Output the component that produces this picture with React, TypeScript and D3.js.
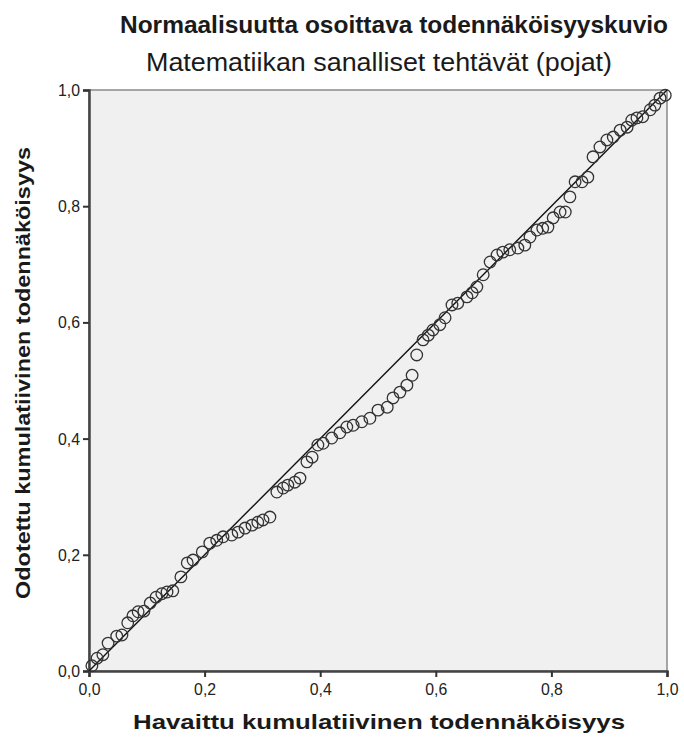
import { useEffect, useRef } from "react";
import * as d3 from "d3";

// observed cumulative probability (x) and expected cumulative probability (y)
const observed = [
  0.005, 0.014, 0.024, 0.033, 0.048, 0.057, 0.067, 0.076, 0.085, 0.095,
  0.106, 0.116, 0.126, 0.135, 0.145, 0.159, 0.17, 0.18, 0.196, 0.209,
  0.221, 0.232, 0.247, 0.258, 0.27, 0.282, 0.292, 0.301, 0.313, 0.325,
  0.336, 0.344, 0.356, 0.365, 0.377, 0.386, 0.396, 0.405, 0.42, 0.434,
  0.446, 0.457, 0.472, 0.486, 0.5, 0.516, 0.526, 0.538, 0.55, 0.559,
  0.567, 0.578, 0.587, 0.595, 0.607, 0.616, 0.628, 0.638, 0.654, 0.663,
  0.671, 0.682, 0.694, 0.706, 0.716, 0.728, 0.742, 0.754, 0.763, 0.775,
  0.785, 0.794, 0.803, 0.815, 0.824, 0.832, 0.841, 0.853, 0.863, 0.872,
  0.884, 0.896, 0.907, 0.919, 0.931, 0.939, 0.948, 0.958, 0.971, 0.979,
  0.988, 0.997,
];
const expected = [
  0.009, 0.022, 0.028, 0.048, 0.06, 0.062, 0.083, 0.095, 0.102, 0.103,
  0.117, 0.127, 0.133, 0.136, 0.138, 0.162, 0.186, 0.191, 0.205, 0.22,
  0.225, 0.231, 0.234, 0.239, 0.246, 0.251, 0.256, 0.26, 0.265, 0.308,
  0.315, 0.32, 0.325, 0.332, 0.36, 0.368, 0.389, 0.392, 0.401, 0.41,
  0.42, 0.423, 0.429, 0.435, 0.449, 0.454, 0.47, 0.48, 0.492, 0.509,
  0.544, 0.57, 0.578, 0.587, 0.596, 0.608, 0.63, 0.633, 0.644, 0.651,
  0.661, 0.682, 0.704, 0.716, 0.721, 0.725, 0.728, 0.733, 0.747, 0.759,
  0.762, 0.764, 0.78, 0.79, 0.79, 0.816, 0.842, 0.842, 0.85, 0.885,
  0.902, 0.914, 0.919, 0.931, 0.936, 0.948, 0.952, 0.954, 0.966, 0.974,
  0.986, 0.991,
];
const tickValues = [0, 0.2, 0.4, 0.6, 0.8, 1.0];
const refLine = [0, 1];

const title = "Normaalisuutta osoittava todennäköisyyskuvio";
const subtitle = "Matematiikan sanalliset tehtävät (pojat)";
const xLabel = "Havaittu kumulatiivinen todennäköisyys";
const yLabel = "Odotettu kumulatiivinen todennäköisyys";

const W = 684;
const H = 742;

export default function App() {
  const ref = useRef<SVGSVGElement>(null);

  useEffect(() => {
    const svg = d3.select(ref.current);
    svg.selectAll("*").remove();

    const margin = { top: 90, right: 17, bottom: 71, left: 89 };
    const w = W - margin.left - margin.right;
    const h = H - margin.top - margin.bottom;
    const font = "'Liberation Sans', Arial, sans-serif";

    svg.append("rect").attr("width", W).attr("height", H).attr("fill", "#fff");

    svg.append("text")
      .attr("x", 394).attr("y", 33)
      .attr("text-anchor", "middle")
      .attr("textLength", 548).attr("lengthAdjust", "spacingAndGlyphs")
      .style("font-family", font).style("font-weight", 700).style("font-size", "24px")
      .attr("fill", "#1a1a1a")
      .text(title);

    svg.append("text")
      .attr("x", 379).attr("y", 71)
      .attr("text-anchor", "middle")
      .attr("textLength", 466).attr("lengthAdjust", "spacingAndGlyphs")
      .style("font-family", font).style("font-size", "25px")
      .attr("fill", "#1a1a1a")
      .text(subtitle);

    const g = svg.append("g").attr("transform", `translate(${margin.left},${margin.top})`);

    const x = d3.scaleLinear().domain([0, 1]).range([0, w]);
    const y = d3.scaleLinear().domain([0, 1]).range([h, 0]);

    g.append("rect")
      .attr("width", w).attr("height", h)
      .attr("fill", "#f0f0f0")
      .attr("stroke", "#8a8a8a").attr("stroke-width", 1.5);

    const fmt = (d: number) => d3.format(".1f")(d).replace(".", ",");

    const xAxis = d3.axisBottom(x).tickValues(tickValues).tickFormat(fmt as any).tickSize(6).tickPadding(3);
    const yAxis = d3.axisLeft(y).tickValues(tickValues).tickFormat(fmt as any).tickSize(6).tickPadding(3);

    const gx = g.append("g").attr("transform", `translate(0,${h})`).call(xAxis);
    const gy = g.append("g").call(yAxis);

    [gx, gy].forEach((ax) => {
      ax.select(".domain").attr("stroke", "#444").attr("stroke-width", 2.5);
      ax.selectAll(".tick line").attr("stroke", "#333").attr("stroke-width", 2);
      ax.selectAll(".tick text")
        .attr("fill", "#222")
        .attr("textLength", 22).attr("lengthAdjust", "spacingAndGlyphs")
        .style("font-family", font)
        .style("font-size", "17px");
    });
    gx.selectAll(".tick text").attr("dy", "0.9em");

    const line = d3.line<number>().x((d) => x(d)).y((d) => y(d));
    g.append("path")
      .datum(refLine)
      .attr("d", line)
      .attr("fill", "none")
      .attr("stroke", "#111")
      .attr("stroke-width", 1.4);

    g.selectAll(".pt")
      .data(observed)
      .enter()
      .append("circle")
      .attr("class", "pt")
      .attr("cx", (d) => x(d))
      .attr("cy", (d, i) => y(expected[i]))
      .attr("r", 5.8)
      .attr("fill", "none")
      .attr("stroke", "#333")
      .attr("stroke-width", 1.3);

    svg.append("text")
      .attr("x", 379).attr("y", 729)
      .attr("text-anchor", "middle")
      .attr("textLength", 492).attr("lengthAdjust", "spacingAndGlyphs")
      .style("font-family", font).style("font-weight", 700).style("font-size", "21px")
      .attr("fill", "#1a1a1a")
      .text(xLabel);

    svg.append("text")
      .attr("transform", `translate(30,373) rotate(-90)`)
      .attr("text-anchor", "middle")
      .attr("textLength", 452).attr("lengthAdjust", "spacingAndGlyphs")
      .style("font-family", font).style("font-weight", 700).style("font-size", "21px")
      .attr("fill", "#1a1a1a")
      .text(yLabel);
  }, []);

  return (
    <div style={{ position: "absolute", left: 0, top: 0 }}>
      <svg ref={ref} width={W} height={H} style={{ display: "block" }}></svg>
    </div>
  );
}
